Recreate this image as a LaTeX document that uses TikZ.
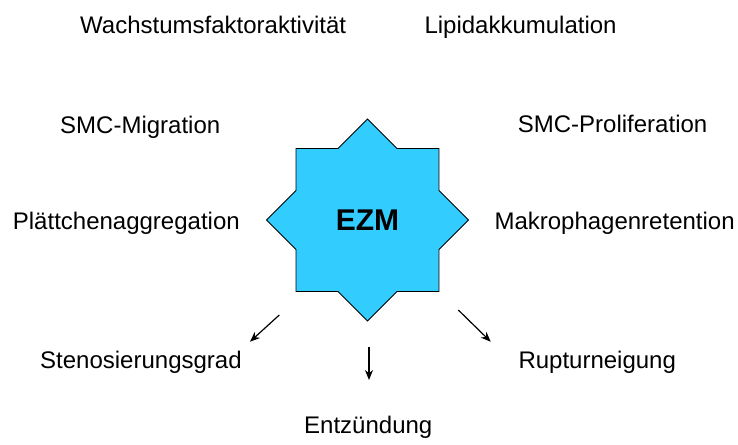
\documentclass[tikz,border=0pt]{standalone}
\usepackage{fontspec}
\setmainfont{Liberation Sans}
\usetikzlibrary{shapes,arrows.meta,positioning}

\definecolor{ezmblue}{RGB}{51,204,255}

\begin{document}
\begin{tikzpicture}[
    x=1pt, y=-1pt,
    label/.style={anchor=base west, inner sep=0pt, font=\fontsize{24}{28}\selectfont},
    hub/.style={star, star points=8, star point ratio=1.307, minimum size=202pt, inner sep=0pt, draw, fill=ezmblue, line width=0.8pt, font=\fontsize{30}{34}\selectfont\bfseries},
    arrow/.style={-{Stealth[length=10pt, width=8pt]}, line width=1.2pt}
]
\useasboundingbox (0,0) rectangle (738,444);

\node[hub] (ezm) at (367.5,220) {EZM};

\node[label] (wachstum) at (80,33.3) {Wachstumsfaktoraktivität};
\node[label] (lipid) at (424.3,33.3) {Lipidakkumulation};
\node[label] (migration) at (60,133.3) {SMC-Migration};
\node[label] (prolif) at (517.7,132.3) {SMC-Proliferation};
\node[label] (plaettchen) at (12.7,229.3) {Plättchenaggregation};
\node[label] (makro) at (494.3,229.3) {Makrophagenretention};
\node[label] (stenose) at (40,368.3) {Stenosierungsgrad};
\node[label] (ruptur) at (518.3,368.3) {Rupturneigung};
\node[label] (entz) at (304,433.3) {Entzündung};

\coordinate (sl) at (279.3,315);
\coordinate (tl) at (250,341.7);
\coordinate (sm) at (369,347.3);
\coordinate (tm) at (369,380);
\coordinate (sr) at (458.3,310);
\coordinate (tr) at (490.7,341.7);

\draw[arrow] (sl) -- (tl);
\draw[arrow] (sm) -- (tm);
\draw[arrow] (sr) -- (tr);
\end{tikzpicture}
\end{document}
